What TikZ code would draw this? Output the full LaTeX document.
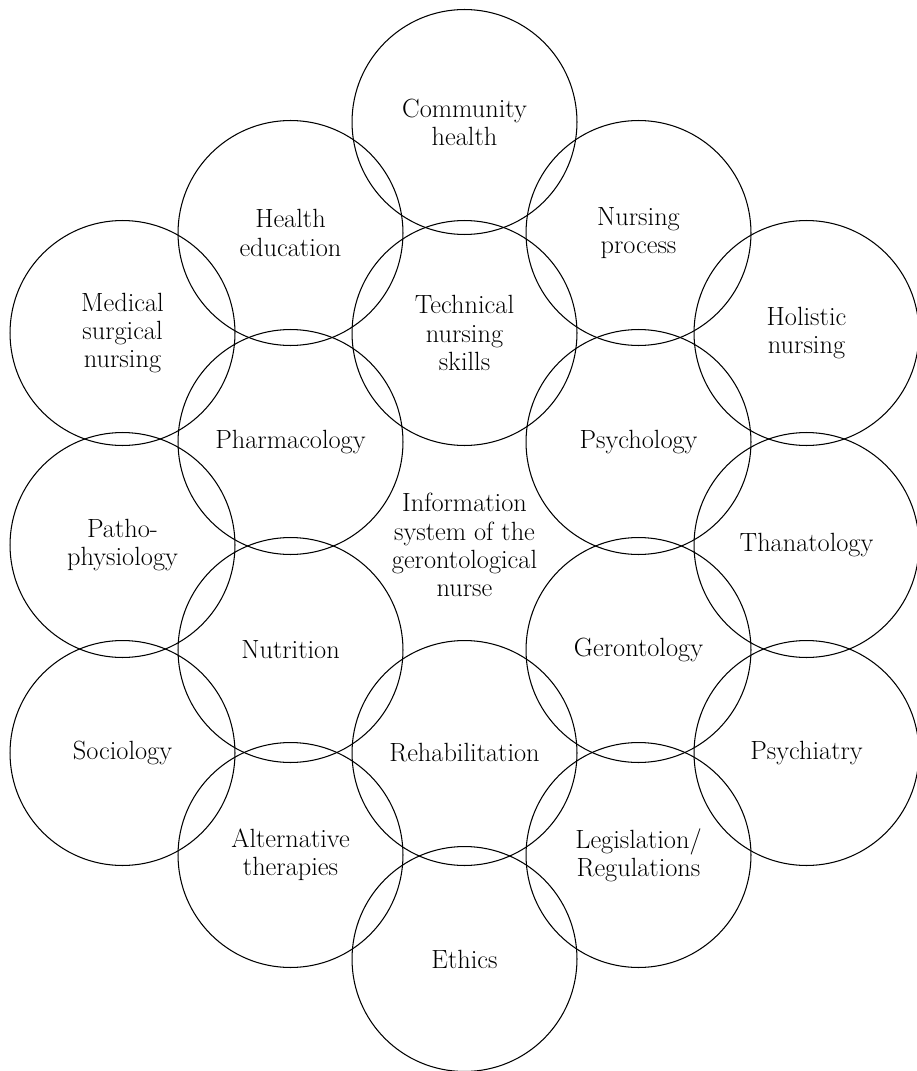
\documentclass[tikz,border=0pt]{standalone}
\usepackage{tikz}
\usetikzlibrary{positioning}

\tikzset{
	field/.style={draw,circle,minimum size=4.5cm,inner sep=0pt,line width=0.6pt,align=center,font=\fontsize{15}{16}\selectfont},
	core/.style={align=center,font=\fontsize{15}{16}\selectfont}
}

\begin{document}
\begin{tikzpicture}[x=0.02cm,y=-0.02cm]
	\useasboundingbox (0,0) rectangle (916,1071);
	% top of the hexagon
	\node[field] (community) at (464.5,122) {Community\\health};
	\node[field] (healthedu) at (290.5,233) {Health\\education};
	\node[field] (process) at (638.5,233) {Nursing\\process};
	\node[field] (medsurg) at (122.5,333) {Medical\\surgical\\nursing};
	\node[field] (technical) at (464.5,333) {Technical\\nursing\\skills};
	\node[field] (holistic) at (806.5,333) {Holistic\\nursing};
	\node[field] (pharma) at (290.5,442) {Pharmacology};
	\node[field] (psycho) at (638.5,442) {Psychology};
	% middle row
	\node[field] (patho) at (122.5,545) {Patho-\\physiology};
	\node[core] (info) at (464.5,545) {Information\\system of the\\gerontological\\nurse};
	\node[field] (thanato) at (806.5,545) {Thanatology};
	\node[field] (nutrition) at (290.5,650) {Nutrition};
	\node[field] (geronto) at (638.5,650) {Gerontology};
	% bottom of the hexagon
	\node[field] (socio) at (122.5,753) {Sociology};
	\node[field] (rehab) at (464.5,753) {Rehabilitation};
	\node[field] (psychiatry) at (806.5,753) {Psychiatry};
	\node[field] (alternative) at (290.5,855) {Alternative\\therapies};
	\node[field] (legis) at (638.5,855) {Legislation/\\Regulations};
	\node[field] (ethics) at (464.5,959) {Ethics};
\end{tikzpicture}
\end{document}
